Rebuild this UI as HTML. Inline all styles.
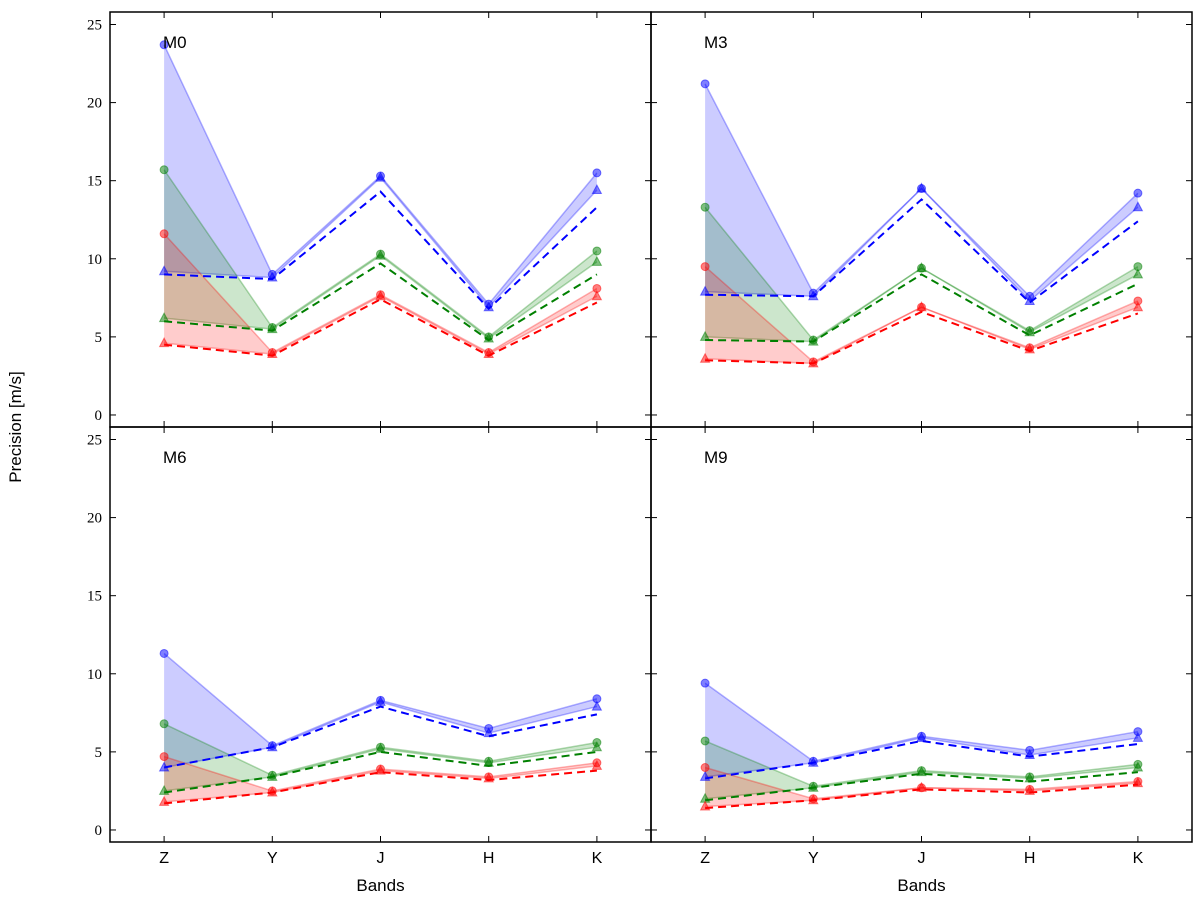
<!DOCTYPE html>
<html><head><meta charset="utf-8"><style>
body{margin:0;background:#fff}
svg{display:block}
text{font-family:"Liberation Sans",sans-serif}
.tk{font-family:"Liberation Serif",serif;font-size:15px}
</style></head><body>
<svg id="chart" width="1200" height="898" xmlns="http://www.w3.org/2000/svg"></svg>
<script>
const bands=["Z","Y","J","H","K"];
const panelNames=["M0","M3","M6","M9"];
const yTicks=[0,5,10,15,20,25];
const blueCirc=[[23.7,9.0,15.3,7.1,15.5],[21.2,7.8,14.5,7.6,14.2],[11.3,5.4,8.3,6.5,8.4],[9.4,4.4,6.0,5.1,6.3]];
const blueTri=[[9.2,8.8,15.2,6.9,14.4],[7.9,7.6,14.5,7.3,13.3],[4.0,5.3,8.2,6.2,7.9],[3.4,4.3,5.9,4.8,5.9]];
const blueDash=[[9.0,8.7,14.3,6.8,13.3],[7.7,7.6,13.8,7.2,12.4],[4.0,5.3,7.9,6.0,7.4],[3.3,4.3,5.7,4.7,5.5]];
const greenCirc=[[15.7,5.6,10.3,5.0,10.5],[13.3,4.8,9.4,5.4,9.5],[6.8,3.5,5.3,4.4,5.6],[5.7,2.8,3.8,3.4,4.2]];
const greenTri=[[6.2,5.5,10.2,4.9,9.8],[5.0,4.7,9.4,5.3,9.0],[2.5,3.4,5.2,4.3,5.3],[2.0,2.7,3.7,3.3,4.0]];
const greenDash=[[6.0,5.4,9.7,4.8,9.0],[4.8,4.7,9.0,5.1,8.4],[2.4,3.4,5.0,4.1,5.0],[1.9,2.7,3.6,3.1,3.7]];
const redCirc=[[11.6,4.0,7.7,4.0,8.1],[9.5,3.4,6.9,4.3,7.3],[4.7,2.5,3.9,3.4,4.3],[4.0,2.0,2.7,2.6,3.1]];
const redTri=[[4.6,3.9,7.6,3.9,7.6],[3.6,3.3,6.9,4.2,6.9],[1.8,2.4,3.8,3.3,4.1],[1.5,1.9,2.7,2.5,3.0]];
const redDash=[[4.5,3.8,7.4,3.8,7.2],[3.5,3.3,6.6,4.1,6.5],[1.7,2.4,3.7,3.2,3.8],[1.4,1.9,2.6,2.4,2.9]];

const NS="http://www.w3.org/2000/svg";
const svg=document.getElementById("chart");
function mk(tag,attrs,parent){const e=document.createElementNS(NS,tag);for(const k in attrs)e.setAttribute(k,attrs[k]);(parent||svg).appendChild(e);return e;}
const PX=[110,651],PY=[12,427],PW=541,PH=415;
const YMIN=-0.77,YMAX=25.8;
const series=[
 {c:"#0000ff",circ:blueCirc,tri:blueTri,dash:blueDash,n:"blue"},
 {c:"#008000",circ:greenCirc,tri:greenTri,dash:greenDash,n:"green"},
 {c:"#ff0000",circ:redCirc,tri:redTri,dash:redDash,n:"red"}];
panelNames.forEach((name,p)=>{
 const x0=PX[p%2],y0=PY[Math.floor(p/2)];
 const g=mk("g",{});
 
 
 const xs=i=>x0+(i+0.5)/5*PW;
 const ys=v=>y0+PH-(v-YMIN)/(YMAX-YMIN)*PH;
 series.forEach(s=>{
  const up=s.circ[p].map((v,i)=>xs(i)+","+ys(v));
  const lo=s.tri[p].map((v,i)=>xs(i)+","+ys(v)).reverse();
  const f=mk("polygon",{points:up.concat(lo).join(" "),fill:s.c,"fill-opacity":0.2,stroke:"none"},g);
  
  
  const l=mk("polyline",{points:up.join(" "),fill:"none",stroke:s.c,"stroke-opacity":0.3,"stroke-width":1.5},g);
  
  
  const l2=mk("polyline",{points:s.tri[p].map((v,i)=>xs(i)+","+ys(v)).join(" "),fill:"none",stroke:s.c,"stroke-opacity":0.3,"stroke-width":1.5},g);
  
  
 });
 series.forEach(s=>{
  const d=mk("polyline",{points:s.dash[p].map((v,i)=>xs(i)+","+ys(v)).join(" "),fill:"none",stroke:s.c,"stroke-width":2,"stroke-dasharray":"8,5"},g);
  
  
  s.circ[p].forEach((v,i)=>{
   const c=mk("circle",{cx:xs(i),cy:ys(v),r:4,fill:s.c,"fill-opacity":0.5,stroke:s.c,"stroke-opacity":0.5},g);
   
   
  });
  s.tri[p].forEach((v,i)=>{
   const x=xs(i),y=ys(v);
   const t=mk("polygon",{points:`${x},${y-5} ${x-4.5},${y+3.5} ${x+4.5},${y+3.5}`,fill:s.c,"fill-opacity":0.5,stroke:s.c,"stroke-opacity":0.5},g);
   
   
  });
 });
 yTicks.forEach(v=>{
  const y=ys(v);
  mk("line",{x1:x0,x2:x0+6,y1:y,y2:y,stroke:"#000"},g);
  mk("line",{x1:x0+PW-6,x2:x0+PW,y1:y,y2:y,stroke:"#000"},g);
  if(p%2==0){const t=mk("text",{x:x0-8,y:y+5,"text-anchor":"end",class:"tk"},g);t.textContent=v;
   }
 });
 bands.forEach((b,i)=>{
  const x=xs(i);
  mk("line",{x1:x,x2:x,y1:y0,y2:y0+6,stroke:"#000"},g);
  mk("line",{x1:x,x2:x,y1:y0+PH-6,y2:y0+PH,stroke:"#000"},g);
  if(p>=2){const t=mk("text",{x:x,y:y0+PH+21,"text-anchor":"middle","font-size":16},g);t.textContent=b;
   }
 });
 const lbl=mk("text",{x:x0+53,y:y0+36,"font-size":17},g);lbl.textContent=name;
 
 mk("rect",{x:x0,y:y0,width:PW,height:PH,fill:"none",stroke:"#000","stroke-width":1.5},g);
 if(p>=2){const t=mk("text",{x:x0+PW/2,y:891,"text-anchor":"middle","font-size":17},g);t.textContent="Bands";
  }
});
const yt=mk("text",{x:0,y:0,"text-anchor":"middle","font-size":17,transform:"translate(21,427) rotate(-90)"});
yt.textContent="Precision [m/s]";


</script>
</body></html>
